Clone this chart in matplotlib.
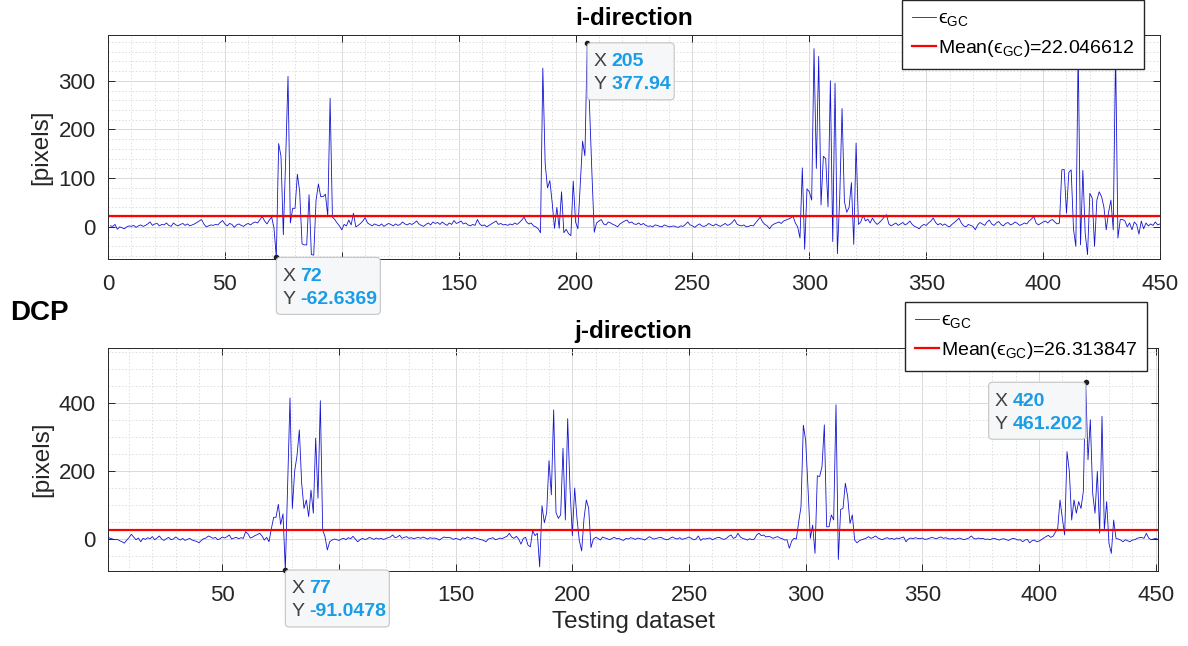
import matplotlib
matplotlib.use('Agg')
import matplotlib.pyplot as plt
from matplotlib.patches import FancyBboxPatch
from matplotlib.transforms import IdentityTransform
from matplotlib.ticker import MultipleLocator

plt.rcParams['font.family'] = ['Liberation Sans', 'DejaVu Sans']
plt.rcParams['mathtext.fontset'] = 'custom'
plt.rcParams['mathtext.rm'] = 'Liberation Sans'
plt.rcParams['mathtext.it'] = 'Liberation Sans:italic'
plt.rcParams['mathtext.bf'] = 'Liberation Sans:bold'

# i-direction error, samples 1..450
err_i = [
    2, 1, 5, -5, 0, -2, -4, 0, 2, 1, 3, -1, 2, 4, 1,
    3, 6, 10, 3, 6, 7, 2, 5, 4, 8, 3, 1, 8, 4, 2,
    5, 7, 3, 6, 2, 4, 6, 9, 12, 15, 6, 0, 2, 4, 3,
    5, 4, 9, 13, 6, 2, 7, 5, -1, 4, 6, 3, 1, 5, 7,
    4, 8, 10, 8, 15, 21, 12, 6, 14, 20, -2, -62.6369, 171, 145, -16,
    140, 309, 8, 38, 38, 108, 72, -35, -37, -37, 66, -57, -58, 55, 88,
    62, 62, 67, 22, 264, 20, 15, 8, 2, -6, 5, 2, 14, 4, 28,
    0, 3, 7, 12, 19, 8, 5, 2, 6, 4, 2, 6, 1, 4, 7,
    5, 2, 6, 3, 5, 10, 6, 4, 7, 5, 8, 12, 6, 3, 1,
    5, 8, 4, 10, 7, 9, 5, 10, 6, 3, 8, 5, 13, 7, 9,
    12, 6, 8, 4, 2, 5, 3, 15, 6, 2, 4, 0, 3, 6, 9,
    12, 5, 7, 4, 5, 3, 6, 4, 8, 5, 9, 14, 20, 10, 6,
    8, 2, 0, -4, -12, 326, 130, 80, 95, 50, -3, 40, -3, 72, -12,
    -5, -14, -18, 94, 10, -4, 88, 176, 146, 377.94, 245, 110, -11, 8, 12,
    15, 6, 4, 10, 8, 5, 3, 0, 6, 9, 12, 14, 8, 10, 6,
    5, 8, 4, 7, 3, 1, 2, 0, 4, 3, 1, 0, 4, 2, 0,
    1, 2, 0, -1, 2, 1, 5, 10, 4, 2, -1, 3, 6, 2, 1,
    3, 7, 4, 2, 6, 3, 1, 4, 7, 3, 5, 9, 15, 6, 3,
    2, 4, 0, 1, 3, 2, 8, 14, 20, 10, 5, 2, -4, 3, 6,
    8, 10, 7, 12, 14, 16, 18, 22, 8, 0, -23, 121, -46, 78, 72,
    55, 366, 120, 350, 45, 145, 140, 41, 300, -30, 295, -55, 60, 243, 52,
    30, 40, 91, -36, 172, 5, 10, 24, 12, 16, 8, 18, 10, 5, 9,
    14, 20, 25, 6, 2, 5, 8, 3, 6, 9, 4, 7, 12, 5, 1,
    -1, -4, 2, 5, 3, 8, 12, 18, 9, 4, 7, 3, 6, 2, 0,
    5, 9, 13, 18, 8, 2, 0, 5, 3, 1, -6, 4, 9, 6, 3,
    10, 14, 6, 3, 8, 11, 5, 2, 7, 9, 4, 6, 10, 7, 3,
    5, 8, 6, 12, 16, 21, 8, 4, 7, 10, 12, 8, 13, 15, 10,
    6, 8, 117, 118, 28, 112, 117, -5, -40, 365, -37, 116, -13, -57, 69,
    59, -40, 55, 72, 62, 41, -6, 30, 55, -6, 360, -23, 15, 15, 12,
    0, 8, -6, 10, 5, -15, 12, -4, 8, 2, 6, 3, 10, 4, 6,
]

# j-direction error, samples 1..451
err_j = [
    5, 2, 0, -2, -1, -5, -8, -12, -3, 4, 14, 6, -2, 3, -8,
    2, -1, 4, 1, 7, -2, 3, 9, 0, -4, 1, 5, -2, 0, 6,
    1, -3, 2, -4, -1, 2, -3, -5, -7, -11, -4, 1, 3, 9, 6,
    2, 5, -2, 1, 6, 3, 7, 12, 0, 3, 5, 1, 4, 2, 22,
    15, 3, 6, 10, 13, 17, 9, -3, 5, -8, 30, 64, 64, 102, 43,
    74, -91.0478, 160, 415, 90, 200, 245, 321, 164, 90, 115, 66, 144, 76, 297,
    120, 407, 27, 7, -32, -8, -3, 0, -2, -4, 0, 2, -2, 4, 1,
    8, 0, -8, -2, 2, -1, 0, 5, 2, -1, 3, 0, 2, -1, 1,
    4, 6, 12, 4, 6, 11, 2, 5, 7, 2, 4, 1, 3, 5, 2,
    6, 3, 0, 4, 2, 3, 1, -3, 2, 6, 4, 5, 3, -1, 2,
    0, -3, 4, 1, 6, 3, 1, 5, 2, 0, -2, -4, -8, 0, 2,
    4, -2, 0, 3, 1, 5, 8, 17, 6, 2, 8, 0, -15, 2, 5,
    -18, -23, 25, 10, 17, -82, 98, 48, 78, 231, 130, 380, 78, 61, 71,
    267, 56, 354, 150, 10, 150, 60, -5, -35, 60, 115, 90, -25, 0, 5,
    2, -3, 6, 3, 1, -2, 2, 5, 1, 2, -2, -4, 2, 0, 4,
    2, -1, 3, 1, 0, -3, 2, 7, 3, 0, 2, 4, 5, 1, -1,
    -2, 3, 6, 2, 0, 4, -1, 1, 3, 6, 2, -2, 0, 9, -4,
    1, 0, 2, 3, -2, 1, 4, 5, 1, -1, 2, 8, 12, 2, 5,
    17, 6, 2, 0, -3, 1, -2, 0, 12, 17, 10, 12, 6, 8, 6,
    2, 5, 7, 3, 1, -3, -2, -27, -6, 2, 0, 50, 95, 335, 290,
    150, 2, 41, -42, 186, 184, 213, 336, 36, 36, 71, 56, 395, -60, 87,
    90, 164, 125, 46, 71, -3, -11, -5, -2, 0, 3, 7, 2, 5, 9,
    3, 0, -2, 2, 4, 0, 2, -1, 3, 1, 4, 6, -8, 0, 3,
    1, 4, 2, 1, 3, -1, 0, 2, 5, 3, 1, 4, 6, 2, 4,
    1, 0, 2, -1, 1, 3, 0, -2, 1, 3, 9, 2, 0, 3, 1,
    2, -1, 0, -2, 1, 2, -1, -3, 0, 1, -2, -4, 0, 2, 0,
    -3, -2, -8, -3, -1, -11, -5, -3, -8, -6, -2, 3, 7, 11, 5,
    8, 20, 30, 115, 61, 12, 257, 199, 56, 115, 76, 110, 90, 140, 461.202,
    233, 351, 135, 76, 199, 17, 361, 27, 110, -13, -42, 56, 2, 0, -3,
    -8, -2, -5, -8, -3, -2, 2, 4, 5, 2, 17, 3, -2, 0, 2,
    -1,
]

mean_i = 22.046612
mean_j = 26.313847

idx_i = list(range(1, len(err_i) + 1))
idx_j = list(range(1, len(err_j) + 1))

# x tick labels (the 100 label sits under the data tip box in the original)
xt_i = list(range(0, 451, 50))
xl_i = ['' if v == 100 else str(v) for v in xt_i]
xt_j = list(range(50, 451, 50))
xl_j = ['' if v == 100 else str(v) for v in xt_j]

# data tips: x, y, x text, y text, box width px, box on left side
tips_i = [(72, -62.6369, '72', '-62.6369', 104, False),
          (205, 377.94, '205', '377.94', 87, False)]
tips_j = [(77, -91.0478, '77', '-91.0478', 104, False),
          (420, 461.202, '420', '461.202', 97, True)]

W, H = 1188, 646
fig = plt.figure(figsize=(W / 100, H / 100), dpi=100)
ax1 = fig.add_axes([108 / W, 1 - 259 / H, 1052 / W, 224 / H])
ax2 = fig.add_axes([108 / W, 1 - 571 / H, 1050 / W, 223 / H])

txt = '#262626'
line_col = '#1414d2'


def style(ax, xminor, yminor):
    ax.xaxis.set_minor_locator(MultipleLocator(xminor))
    ax.yaxis.set_minor_locator(MultipleLocator(yminor))
    ax.grid(True, which='major', color='#d9d9d9', lw=0.7)
    ax.grid(True, which='minor', color='#dedede', lw=0.7, ls=(0, (1.5, 2)))
    ax.set_axisbelow(True)
    for s in ax.spines.values():
        s.set_color(txt)
        s.set_linewidth(0.7)
    ax.tick_params(which='major', direction='in', length=5, width=0.7,
                   top=True, right=True, labelsize=16, colors=txt)
    ax.tick_params(which='minor', length=0)


def datatip(ax, x, y, xs, ys, w, left):
    px, py = ax.transData.transform((x, y))
    h = 57
    x0 = px - w if left else px
    box = FancyBboxPatch((x0, py - h), w, h,
                         boxstyle='round,pad=0,rounding_size=4',
                         transform=IdentityTransform(), facecolor='#f6f7f8',
                         edgecolor='#c4c4c4', lw=0.8, zorder=20)
    fig.add_artist(box)
    for dy, a, b in ((19, 'X', xs), (42, 'Y', ys)):
        fig.text(x0 + 6, py - dy, a, transform=IdentityTransform(),
                 va='center', fontsize=14, color='#404040', zorder=21)
        fig.text(x0 + 24, py - dy, b, transform=IdentityTransform(),
                 va='center', fontsize=14, color='#1a9de6', weight='bold',
                 zorder=21)
    ax.plot([x], [y], 'o', ms=3, color='#202020', zorder=22, clip_on=False)


lab_e = 'ϵ$_{\\rm GC}$'
leg_kw = dict(loc='upper left', bbox_transform=fig.transFigure, fontsize=14,
              frameon=True, fancybox=False, framealpha=1, edgecolor='#262626',
              borderaxespad=0, handlelength=1.25, handletextpad=0.1,
              labelspacing=0.5, borderpad=0.5)

# top panel
style(ax1, 10, 20)
ax1.plot(idx_i, err_i, color=line_col, lw=0.6, label=lab_e)
ax1.plot(idx_i, [mean_i] * len(idx_i), color='#ff0000', lw=1.6,
         label='Mean(' + lab_e + ')=%.6f' % mean_i)
ax1.set_xlim(0, 450)
ax1.set_ylim(-66, 394)
ax1.set_xticks(xt_i)
ax1.set_xticklabels(xl_i)
ax1.set_yticks([0, 100, 200, 300])
ax1.tick_params(axis='x', pad=11)
ax1.tick_params(axis='y', pad=9)
ax1.set_ylabel('[pixels]', fontsize=17.5, color=txt, labelpad=4)
ax1.set_title('i-direction', fontsize=17.5, weight='bold', pad=7)
ax1.legend(bbox_to_anchor=(902 / W, 1.0), **leg_kw)

# bottom panel
style(ax2, 10, 50)
ax2.plot(idx_j, err_j, color=line_col, lw=0.6, label=lab_e)
ax2.plot(idx_j, [mean_j] * len(idx_j), color='#ff0000', lw=1.6,
         label='Mean(' + lab_e + ')=%.6f' % mean_j)
ax2.set_xlim(1, 451)
ax2.set_ylim(-94, 562)
ax2.set_xticks(xt_j)
ax2.set_xticklabels(xl_j)
ax2.set_yticks([0, 200, 400])
ax2.tick_params(axis='x', pad=10)
ax2.tick_params(axis='y', pad=9)
ax2.set_ylabel('[pixels]', fontsize=17.5, color=txt, labelpad=4)
ax2.set_xlabel('Testing dataset', fontsize=17.5, color=txt, labelpad=4)
ax2.set_title('j-direction', fontsize=17.5, weight='bold', pad=7)
ax2.legend(bbox_to_anchor=(905 / W, 1 - 302 / H), **leg_kw)

fig.text(10 / W, 1 - 313 / H, 'DCP', fontsize=20, weight='bold', va='center')

for t in tips_i:
    datatip(ax1, *t)
for t in tips_j:
    datatip(ax2, *t)

fig.savefig('out.png', dpi=100)
